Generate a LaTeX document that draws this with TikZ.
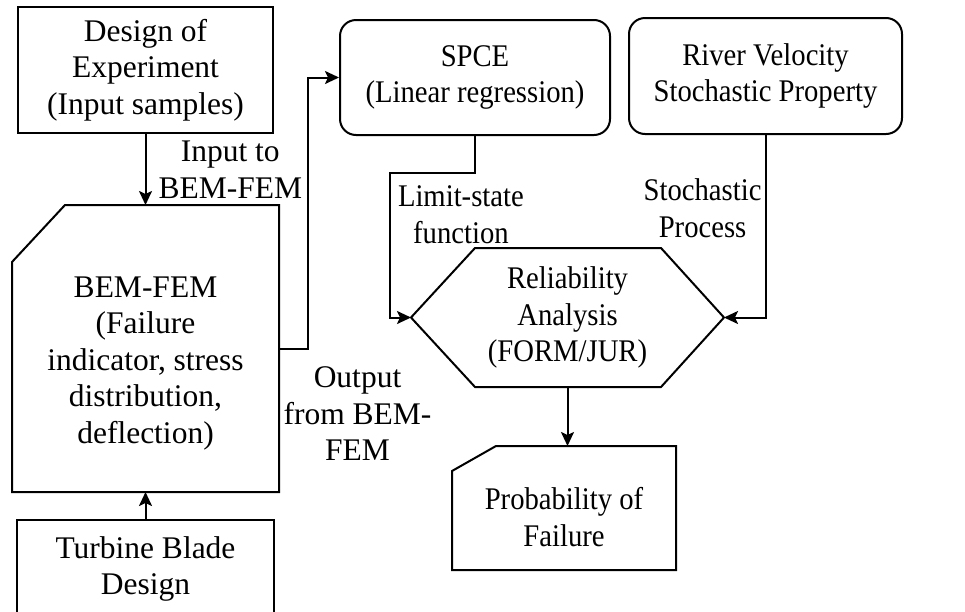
\documentclass[tikz,border=0pt]{standalone}
\usepackage{fontspec}
\setmainfont{Liberation Serif}
\newfontfamily\narrowrm{Liberation Serif}[FakeStretch=0.91]
\usetikzlibrary{arrows.meta,positioning}

\begin{document}
\begin{tikzpicture}[x=1pt, y=-1pt, line width=2pt,
  >={Stealth[length=14pt, width=13pt, inset=3pt]},
  every node/.style={font=\fontsize{31.5}{36.5}\selectfont, align=center, inner sep=0pt},
  narrow/.style={font=\narrowrm\fontsize{31.5}{36.5}\selectfont},
  box/.style={draw, rectangle},
  rbox/.style={draw, rectangle, rounded corners=16pt}]
  \useasboundingbox (0,0) rectangle (965,611);
  \node(doe)[box, minimum width=255pt, minimum height=126pt] at (145.5,70) {Design of\\Experiment\\(Input samples)};
  \node(bem)[minimum width=265pt, minimum height=285pt] at (145.5,348.5) {};
  \node(bemtxt) at ([yshift=-15pt]bem.center) {BEM-FEM\\(Failure\\indicator, stress\\distribution,\\deflection)};
  \draw (bem.north east) -- (bem.south east) -- (bem.south west) -- ([yshift=-57pt]bem.north west) -- ([xshift=53pt]bem.north west) -- cycle;
  \node(tbd)[box, minimum width=257pt, minimum height=98pt] at (145.5,569) {Turbine Blade\\Design};
  \node(spce)[rbox, narrow, minimum width=270pt, minimum height=115pt] at (475,77.5) {SPCE\\(Linear regression)};
  \node(river)[rbox, narrow, minimum width=273pt, minimum height=116pt] at (765.5,76) {River Velocity\\Stochastic Property};
  \node(rel)[narrow, minimum width=311pt, minimum height=137pt] at (567.5,317.5) {Reliability\\Analysis\\(FORM/JUR)};
  \draw ([xshift=64pt]rel.north west) -- ([xshift=-63pt]rel.north east) -- (rel.east) -- ([xshift=-63pt]rel.south east) -- ([xshift=64pt]rel.south west) -- (rel.west) -- cycle;
  \node(pof)[minimum width=222pt, minimum height=122pt] at (564,508) {};
  \node(poftxt)[narrow] at ([yshift=-9pt]pof.center) {Probability of\\Failure};
  \draw (pof.north east) -- (pof.south east) -- (pof.south west) -- ([yshift=-25pt]pof.north west) -- ([xshift=44pt]pof.north west) -- cycle;
  \coordinate(lsf) at (390,173);
  \node(out) at (357.5,414) {Output\\from BEM-\\FEM};
  \draw[->] (doe) -- (bem) node[midway, right=12pt] {Input to\\BEM-FEM};
  \draw[->] (tbd) -- (bem);
  \draw[->] (bem.east) -- ++(29,0) |- (spce);
  \draw[->] (spce) |- (lsf) node[narrow, anchor=north west, xshift=7pt, yshift=-12pt] {Limit-state\\function} |- (rel);
  \draw[->] (river) |- (rel) node[narrow, pos=0.2, left=3pt] {Stochastic\\Process};
  \draw[->] (rel) -- (rel |- pof.north);
\end{tikzpicture}
\end{document}
